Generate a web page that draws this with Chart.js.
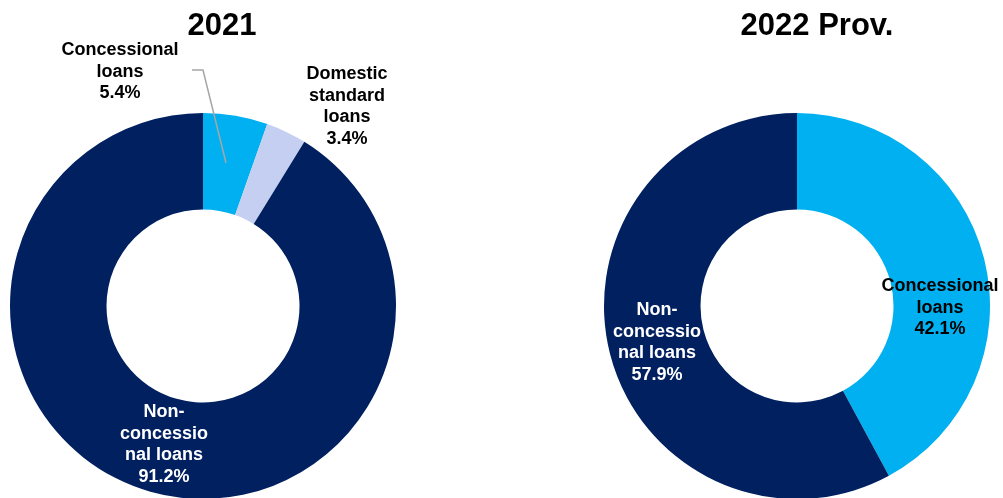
<!DOCTYPE html>
<html>
<head>
<meta charset="utf-8">
<script src="https://cdn.jsdelivr.net/npm/chart.js@4.4.1/dist/chart.umd.min.js"></script>
<style>
  html, body { margin: 0; padding: 0; background: #ffffff; overflow: hidden; width: 1003px; height: 498px; }
  .pane { position: absolute; top: 0; height: 499px; }
  #p2021 { left: 0; width: 501px; }
  #p2022 { left: 501px; width: 502px; }
</style>
</head>
<body>
<div class="pane" id="p2021"><canvas id="c2021"></canvas></div>
<div class="pane" id="p2022"><canvas id="c2022"></canvas></div>
<script>
// Loan composition by type, share of total (%)
const categories = ['Concessional loans', 'Domestic standard loans', 'Non-concessional loans'];
const titles = ['2021', '2022 Prov.'];
const share2021 = [5.4, 3.4, 91.2];
const share2022 = [42.1, 0, 57.9];
const sliceColors = ['#00B0F0', '#C5CFF2', '#002060'];

const FONT = '"Liberation Sans", Arial, Helvetica, sans-serif';

// Wrapped label lines; the last line is the value
const labels2021 = [
  { lines: ['Concessional', 'loans', share2021[0].toFixed(1) + '%'], x: 120, y: 50, color: '#000000' },
  { lines: ['Domestic', 'standard', 'loans', share2021[1].toFixed(1) + '%'], x: 347, y: 74, color: '#000000' },
  { lines: ['Non-', 'concessio', 'nal loans', share2021[2].toFixed(1) + '%'], x: 164, y: 412, color: '#ffffff' }
];
const labels2022 = [
  { lines: ['Concessional', 'loans', share2022[0].toFixed(1) + '%'], x: 439, y: 286, color: '#000000' },
  { lines: ['Non-', 'concessio', 'nal loans', share2022[2].toFixed(1) + '%'], x: 156, y: 310, color: '#ffffff' }
];

function textPlugin(title, titleX, labels, leader) {
  return {
    id: 'pieText',
    afterDraw(chart) {
      const ctx = chart.ctx;
      ctx.save();
      if (leader) {
        ctx.strokeStyle = '#A6A6A6';
        ctx.lineWidth = 1.5;
        ctx.beginPath();
        ctx.moveTo(leader[0][0], leader[0][1]);
        for (let i = 1; i < leader.length; i++) ctx.lineTo(leader[i][0], leader[i][1]);
        ctx.stroke();
      }
      ctx.textAlign = 'center';
      ctx.textBaseline = 'middle';
      ctx.fillStyle = '#000000';
      ctx.font = 'bold 31px ' + FONT;
      ctx.fillText(title, titleX, 26);
      ctx.font = 'bold 18px ' + FONT;
      labels.forEach(l => {
        ctx.fillStyle = l.color;
        l.lines.forEach((t, i) => ctx.fillText(t, l.x, l.y + i * 21.6));
      });
      ctx.restore();
    }
  };
}

function makeChart(id, values, padding, plugin) {
  return new Chart(document.getElementById(id), {
    type: 'doughnut',
    data: {
      labels: categories,
      datasets: [{ data: values, backgroundColor: sliceColors, borderWidth: 0 }]
    },
    options: {
      responsive: true,
      maintainAspectRatio: false,
      animation: false,
      cutout: '50%',
      layout: { padding: padding },
      plugins: { legend: { display: false }, tooltip: { enabled: false } }
    },
    plugins: [plugin]
  });
}

makeChart('c2021', share2021, { left: 10, right: 105, top: 113, bottom: 0 },
  textPlugin(titles[0], 222, labels2021, [[192, 70], [203, 70], [226, 163]]));
makeChart('c2022', share2022, { left: 103, right: 13, top: 113, bottom: 0 },
  textPlugin(titles[1], 316, labels2022, null));
</script>
</body>
</html>
